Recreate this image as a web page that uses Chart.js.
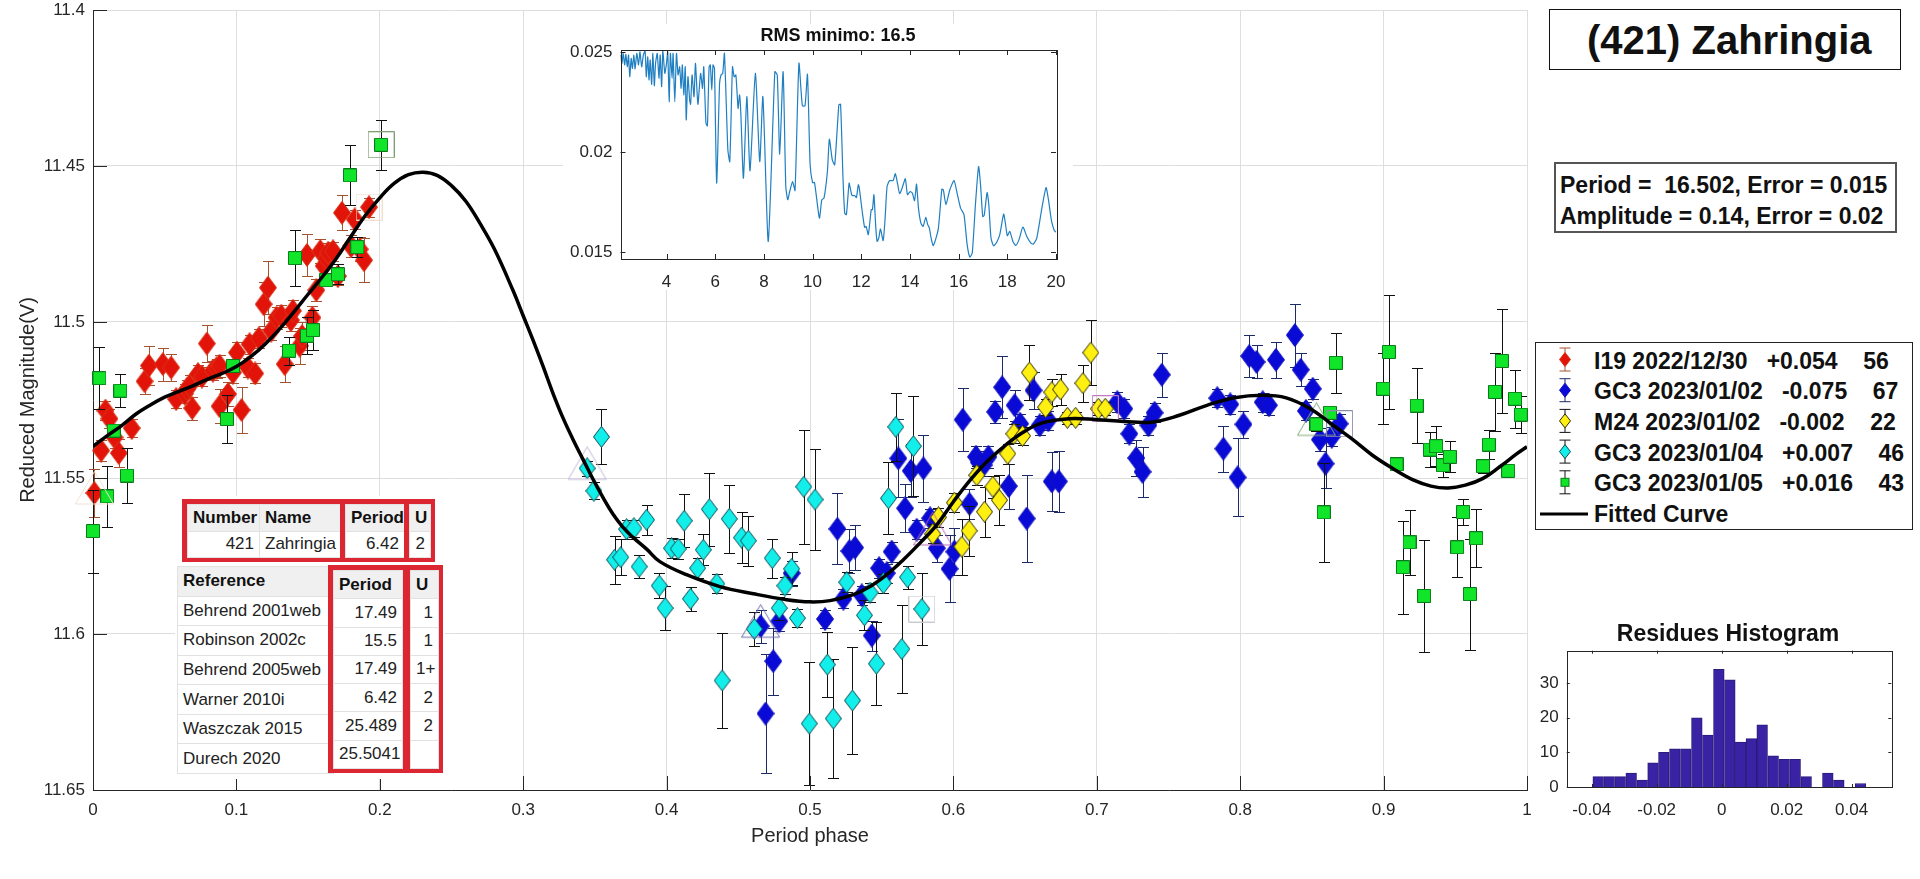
<!DOCTYPE html>
<html>
<head>
<meta charset="utf-8">
<title>(421) Zahringia</title>
<script src="https://cdn.jsdelivr.net/npm/chart.js@4/dist/chart.umd.min.js"></script>
<style>
    html, body { margin: 0; padding: 0; background: #fff; width: 1920px; height: 879px; overflow: hidden; }
    body { position: relative; font-family: "Liberation Sans", Arial, sans-serif; color: #111; }
    canvas { position: absolute; display: block; }
    .plotTitle { position: absolute; transform: translateX(-50%); font-weight: bold; white-space: nowrap; line-height: 1; }
    #rmsTitle { left: 838px; top: 26px; font-size: 18px; }
    #histTitle { left: 1728px; top: 622px; font-size: 23px; }
    .box { position: absolute; box-sizing: border-box; background: #fff; font-weight: bold; white-space: pre; }
    #titleBox { left: 1549px; top: 9px; width: 352px; height: 61px; border: 1.5px solid #111; font-size: 40px; line-height: 61px; padding-left: 37px; }
    #fitBox { left: 1554px; top: 162px; width: 343px; height: 71px; border: 2px solid #555; font-size: 23px; line-height: 30.5px; padding: 6px 0 0 4px; }
    #legendBox { left: 1535px; top: 342px; width: 378px; height: 188px; border: 1.5px solid #222; }
    #legendBox .row { position: absolute; left: 58px; font-size: 23px; line-height: 30px; }
    #legendBox svg { position: absolute; left: 0; top: 0; }
    .frame { position: absolute; box-sizing: border-box; border: 5px solid #dc2632; background: #fff; }
    .plain { position: absolute; background: #fff; }
    table { border-collapse: collapse; table-layout: fixed; width: 100%; font-size: 17px; color: #222; }
    td, th { border: 1px solid #e2e2e2; padding: 0 5px; overflow: hidden; white-space: nowrap; text-align: left; }
    th { background: #f0f0f0; color: #111; font-weight: bold; }
    td.num { text-align: right; }
</style>
</head>
<body>
<canvas id="mainChart" width="1920" height="879" style="left:0;top:0"></canvas>
<canvas id="rmsChart" width="510" height="266" style="left:563px;top:24px;background:#fff"></canvas>
<canvas id="histChart" width="400" height="260" style="left:1520px;top:619px"></canvas>
<div id="rmsTitle" class="plotTitle">RMS minimo: 16.5</div>
<div id="histTitle" class="plotTitle">Residues Histogram</div>
<div id="titleBox" class="box">(421) Zahringia</div>
<div id="fitBox" class="box">Period =  16.502, Error = 0.015
Amplitude = 0.14, Error = 0.02</div>
<div id="legendBox" class="box"></div>
<div id="tables"></div>
<script>
// I19 2022/12/30
const i19Phase = [.001, .0057, .0087, .0115, .015, .018, .027, .036, .039, .0487, .0545, .058, .064, .0655, .0673, .0692, .0732, .076, .0794, .0836, .0862, .0883, .0883, .0941, .0976, .1004, .1036, .108, .1092, .1131, .1157, .119, .122, .1243, .128, .1313, .1337, .138, .1394, .1441, .1458, .1492, .153, .1557, .1585, .1609, .1627, .164, .1674, .1708, .1736, .18, .1825, .186, .189, .1925];
const i19Mag = [11.5548, 11.5412, 11.5284, 11.531, 11.537, 11.542, 11.534, 11.519, 11.514, 11.5135, 11.5146, 11.5247, 11.523, 11.5215, 11.5204, 11.5276, 11.5167, 11.5175, 11.5069, 11.5156, 11.5148, 11.514, 11.527, 11.5231, 11.5162, 11.5098, 11.5282, 11.5146, 11.5071, 11.5165, 11.5052, 11.4943, 11.489, 11.5028, 11.4986, 11.498, 11.5135, 11.4994, 11.4964, 11.5076, 11.5045, 11.4785, 11.4986, 11.4898, 11.4773, 11.482, 11.4795, 11.4778, 11.4773, 11.4853, 11.465, 11.4757, 11.4671, 11.4767, 11.4802, 11.4632];
const i19Err = [.0077, .0035, .003, .003, .0035, .0045, .003, .0042, .0062, .0053, .0043, .003, .003, .003, .0035, .0037, .003, .003, .0058, .003, .003, .0035, .0055, .0038, .0032, .0035, .0075, .003, .003, .0032, .003, .007, .0085, .003, .0035, .0035, .0058, .0035, .0035, .0058, .0045, .0068, .0038, .0035, .0038, .0035, .003, .003, .003, .0027, .0056, .0035, .003, .0038, .007, .003];

// GC3 2023/01/02
const gc302Phase = [.4656, .469, .4744, .4786, .4872, .5105, .5191, .5233, .5275, .5314, .5361, .5431, .5482, .5535, .557, .5616, .5663, .5703, .5744, .5791, .5838, .5884, .5973, .6007, .6065, .6112, .6158, .6178, .621, .6244, .6291, .634, .6386, .6427, .6465, .6511, .6559, .6602, .6662, .6686, .6735, .7143, .7191, .7227, .7275, .7319, .736, .7403, .7453, .784, .7883, .7931, .7982, .8023, .8063, .8114, .8157, .82, .8249, .8381, .8422, .8458, .8506, .8556, .8595, .8638, .8693];
const gc302Mag = [11.5975, 11.6255, 11.6087, 11.5959, 11.5805, 11.5952, 11.5663, 11.5887, 11.5734, 11.5723, 11.5876, 11.6005, 11.5789, 11.5805, 11.5736, 11.5437, 11.5597, 11.5477, 11.5666, 11.5469, 11.5629, 11.5725, 11.5791, 11.5736, 11.5313, 11.5583, 11.5432, 11.545, 11.5459, 11.5432, 11.5288, 11.5209, 11.5526, 11.5267, 11.5326, 11.563, 11.5219, 11.5331, 11.5315, 11.5511, 11.5511, 11.5257, 11.5278, 11.5358, 11.5436, 11.548, 11.5331, 11.5291, 11.5169, 11.5244, 11.5406, 11.5264, 11.5498, 11.5328, 11.5109, 11.5128, 11.5257, 11.5267, 11.5121, 11.5042, 11.5153, 11.5285, 11.5214, 11.5377, 11.5454, 11.5368, 11.5326];
const gc302Err = [.0053, .0192, .0107, .0032, .004, .003, .0114, .003, .0069, .0072, .003, .0048, .003, .003, .0032, .0125, .0077, .0085, .003, .0107, .003, .0043, .0107, .0075, .01, .0048, .0035, .0035, .0035, .0035, .0035, .01, .0072, .005, .003, .014, .006, .003, .003, .0095, .0097, .0032, .003, .003, .0058, .008, .003, .003, .0071, .003, .0074, .003, .0125, .0043, .0067, .0053, .003, .003, .0058, .0101, .0053, .003, .0032, .0037, .0078, .003, .003];

// M24 2023/01/02
const m24Phase = [.5856, .5896, .6007, .6059, .611, .6163, .6217, .6275, .6321, .6379, .6422, .6482, .653, .6643, .6686, .6747, .6795, .6852, .6903, .6958, .7011, .7059];
const m24Mag = [11.5679, 11.5626, 11.5579, 11.572, 11.5669, 11.5491, 11.5608, 11.5528, 11.5571, 11.5422, 11.5358, 11.5365, 11.5162, 11.5273, 11.5225, 11.5216, 11.5307, 11.5307, 11.5196, 11.5098, 11.5278, 11.5278];
const m24Err = [.003, .003, .003, .009, .008, .003, .008, .0035, .008, .0032, .003, .003, .0088, .0025, .0043, .005, .002, .002, .0059, .0105, .002, .002];

// GC3 2023/01/04
const gc304Phase = [.3446, .3493, .3546, .3637, .368, .3721, .3772, .3809, .386, .3949, .399, .4035, .4081, .4123, .4167, .4216, .4256, .4298, .435, .4388, .4437, .4523, .457, .4612, .4737, .4786, .4825, .4872, .4912, .4956, .4995, .5035, .5121, .5163, .5256, .5296, .538, .5419, .5463, .5512, .5547, .5598, .564, .568, .5721, .578];
const gc304Mag = [11.5469, 11.5541, 11.5368, 11.5762, 11.5754, 11.5664, 11.5661, 11.5784, 11.5634, 11.5845, 11.5917, 11.5725, 11.5727, 11.5637, 11.5887, 11.5789, 11.573, 11.56, 11.5839, 11.6149, 11.5631, 11.5691, 11.5701, 11.5984, 11.5757, 11.5917, 11.5845, 11.5791, 11.5949, 11.5528, 11.6287, 11.5569, 11.6098, 11.6271, 11.5834, 11.6213, 11.594, 11.5867, 11.6095, 11.5837, 11.5565, 11.5336, 11.6048, 11.5818, 11.5398, 11.592];
const gc304Err = [.0025, .0027, .0088, .0077, .0057, .003, .0027, .0037, .0048, .004, .007, .0032, .0032, .0085, .0038, .0032, .005, .0117, .003, .0152, .011, .0082, .008, .0056, .0062, .0037, .0027, .0053, .003, .0183, .0197, .0163, .0103, .019, .0032, .0171, .0048, .003, .0133, .003, .0115, .011, .0142, .0037, .016, .0114];

// GC3 2023/01/05
const gc305Phase = [0, .0045, .0099, .0145, .019, .0237, .0934, .0976, .1367, .1408, .1492, .1534, .1627, .1708, .1792, .1843, .2009, .8532, .8583, .8626, .8667, .8996, .9037, .909, .9135, .9181, .9231, .9282, .9323, .9366, .9414, .9462, .9513, .9554, .9602, .9645, .9693, .9734, .9777, .9825, .9868, .9916, .9957];
const gc305Mag = [11.567, 11.518, 11.5559, 11.5348, 11.522, 11.5492, 11.5311, 11.5141, 11.5092, 11.4795, 11.5044, 11.5026, 11.4866, 11.4847, 11.453, 11.476, 11.4432, 11.5328, 11.561, 11.5291, 11.5131, 11.5214, 11.5096, 11.5456, 11.5786, 11.5706, 11.5268, 11.5878, 11.5409, 11.5398, 11.5459, 11.5432, 11.5722, 11.5609, 11.5872, 11.5693, 11.5462, 11.5393, 11.5224, 11.5125, 11.5477, 11.5246, 11.5297];
const gc305Err = [.0133, .01, .0098, .002, .0053, .0087, .0077, .0016, .0045, .0091, .0059, .0064, .002, .0032, .0096, .0032, .008, .002, .0158, .002, .0096, .0114, .0182, .0016, .0149, .0104, .0121, .0179, .0057, .0064, .0037, .005, .0096, .0043, .0178, .0093, .0021, .0047, .0126, .0167, .0016, .0093, .006];

// Session start (triangle) and end (square), order: I19, GC3 01/02, M24, GC3 01/04, GC3 01/05
const startPhase = [.001, .4656, .5856, .3446, .8532];
const startMag = [11.5548, 11.5975, 11.5679, 11.5469, 11.5328];
const endPhase = [.1925, .8693, .7059, .578, .2009];
const endMag = [11.4632, 11.5326, 11.5278, 11.592, 11.4432];

// Fitted curve
const fitPhase = [0, .01, .02, .03, .04, .05, .06, .07, .08, .09, .1, .11, .12, .13, .14, .15, .16, .17, .18, .19, .2, .21, .22, .23, .24, .25, .26, .27, .28, .293, .3, .307, .314, .3209, .3279, .3349, .3419, .3488, .3558, .3628, .3698, .3768, .3861, .3953, .4139, .4372, .4605, .4837, .5, .514, .5302, .5419, .5535, .5651, .5768, .5884, .6, .6117, .6233, .635, .647, .6614, .6807, .7, .7191, .7384, .7576, .7768, .796, .8152, .8321, .8489, .8633, .8777, .8922, .9066, .921, .933, .945, .957, .969, .981, .993, 1];
const fitMag = [11.5399, 11.5364, 11.5332, 11.5295, 11.5266, 11.5241, 11.5222, 11.5204, 11.5183, 11.5165, 11.5143, 11.5111, 11.5071, 11.5023, 11.4968, 11.4911, 11.4855, 11.4794, 11.4725, 11.4658, 11.4602, 11.4556, 11.4528, 11.452, 11.453, 11.4563, 11.4613, 11.4685, 11.4767, 11.49, 11.498, 11.506, 11.5144, 11.523, 11.5309, 11.5378, 11.5442, 11.5505, 11.5564, 11.5617, 11.5659, 11.5691, 11.5728, 11.5768, 11.581, 11.5848, 11.5871, 11.589, 11.5897, 11.5893, 11.5874, 11.5848, 11.581, 11.5762, 11.5708, 11.565, 11.5576, 11.5507, 11.5448, 11.54, 11.5358, 11.5324, 11.531, 11.5313, 11.5319, 11.5321, 11.5299, 11.5267, 11.5243, 11.5235, 11.5243, 11.5278, 11.5326, 11.5374, 11.5427, 11.547, 11.5507, 11.5526, 11.5532, 11.5523, 11.5502, 11.5464, 11.5422, 11.54];

// RMS inset
const rmsPeriod = [2.11, 2.17, 2.22, 2.28, 2.33, 2.39, 2.44, 2.49, 2.55, 2.6, 2.66, 2.71, 2.78, 2.85, 2.91, 2.98, 3.05, 3.12, 3.17, 3.23, 3.28, 3.33, 3.39, 3.44, 3.5, 3.55, 3.62, 3.69, 3.74, 3.8, 3.85, 3.93, 4, 4.05, 4.11, 4.16, 4.23, 4.27, 4.34, 4.41, 4.475, 4.54, 4.6, 4.65, 4.71, 4.77, 4.81, 4.88, 4.95, 4.99, 5.05, 5.13, 5.19, 5.29, 5.4, 5.48, 5.53, 5.62, 5.68, 5.75, 5.8, 5.86, 5.91, 5.97, 6.06, 6.18, 6.24, 6.31, 6.38, 6.52, 6.6, 6.71, 6.78, 6.85, 6.94, 7, 7.05, 7.16, 7.3, 7.43, 7.65, 7.83, 7.96, 8.18, 8.45, 8.55, 8.65, 8.79, 8.9, 8.98, 9.06, 9.18, 9.28, 9.44, 9.58, 9.69, 9.79, 9.9, 10, 10.08, 10.28, 10.38, 10.47, 10.61, 10.69, 10.81, 10.91, 11.08, 11.15, 11.25, 11.32, 11.39, 11.5, 11.55, 11.62, 11.73, 11.8, 11.88, 11.92, 12.04, 12.14, 12.2, 12.29, 12.41, 12.46, 12.52, 12.59, 12.65, 12.72, 12.79, 12.9, 12.98, 13.06, 13.16, 13.31, 13.4, 13.5, 13.58, 13.7, 13.81, 13.9, 14.01, 14.1, 14.19, 14.27, 14.35, 14.45, 14.54, 14.65, 14.73, 14.79, 14.87, 14.95, 15.03, 15.17, 15.31, 15.37, 15.48, 15.63, 15.81, 15.95, 16.08, 16.22, 16.35, 16.46, 16.56, 16.69, 16.82, 16.9, 16.99, 17.05, 17.17, 17.24, 17.33, 17.44, 17.58, 17.69, 17.85, 17.92, 18, 18.1, 18.23, 18.35, 18.48, 18.64, 18.8, 18.97, 19.07, 19.21, 19.42, 19.59, 19.69, 19.82, 19.93, 20];
const rmsValue = [.02487, .02445, .02495, .02437, .0249, .02428, .02487, .02378, .0247, .0242, .02487, .02417, .02495, .02437, .02503, .02428, .02487, .02507, .02378, .02478, .02362, .02462, .0234, .02495, .02333, .02445, .02495, .0237, .02487, .02328, .02512, .02395, .02445, .02503, .02253, .02495, .0237, .02495, .02253, .02495, .02387, .02428, .0232, .02437, .02287, .02428, .02162, .02378, .02262, .0224, .02387, .02278, .02445, .0224, .02395, .0232, .02428, .02145, .02132, .02428, .02437, .02312, .02437, .0242, .01845, .02345, .02387, .02395, .02495, .02012, .01953, .02428, .02378, .02387, .0222, .02287, .02203, .0187, .02278, .01907, .02395, .01953, .02278, .01553, .02403, .02387, .0199, .02403, .01828, .01762, .01803, .01853, .01808, .02445, .02233, .02233, .0239, .01937, .01848, .01848, .0167, .01762, .0177, .01903, .02065, .01962, .01937, .02237, .0224, .0187, .01695, .01687, .01845, .0182, .01783, .01783, .01773, .01837, .0182, .01703, .01623, .01628, .01587, .01712, .01712, .01787, .01637, .01553, .0157, .01615, .01557, .0167, .01828, .01857, .01858, .01892, .01837, .01792, .01828, .01867, .01787, .01803, .01795, .01757, .0184, .0172, .01645, .01628, .01673, .01637, .01623, .0157, .01532, .01553, .0162, .01815, .01812, .01737, .01808, .01858, .01787, .0172, .01687, .01537, .01475, .01495, .01737, .01928, .01837, .01678, .01683, .01798, .01737, .0157, .0153, .01553, .01587, .0169, .01645, .01582, .01603, .01553, .01533, .01562, .01625, .01578, .01545, .0154, .0157, .0172, .01823, .01762, .01653, .01608, .016];
const rmsTicksX = [4, 6, 8, 10, 12, 14, 16, 18, 20];
const rmsTicksY = [.015, .02, .025];

// Residues histogram
const histBins = [-.038, -.03462, -.03123, -.02785, -.02446, -.02113, -.0178, -.01441, -.01103, -.00764, -.00426, -.00087, .00251, .00585, .00913, .01246, .01585, .01923, .02262, .026, .02933, .03267, .03605, .03938, .04272];
const histCounts = [3, 3, 3, 4, 2, 7, 10, 11, 11, 20, 15, 34, 31, 13, 14, 18, 9, 8, 8, 3, 0, 4, 2, 0, 1];
const histTicksX = [-.04, -.02, 0, .02, .04];
const histTicksY = [0, 10, 20, 30];

// Legend text and tables
const legendLabels = ['I19 2022/12/30   +0.054    56', 'GC3 2023/01/02   -0.075    67', 'M24 2023/01/02   -0.002    22', 'GC3 2023/01/04   +0.007    46', 'GC3 2023/01/05   +0.016    43'];
const refNames = ['Behrend 2001web', 'Robinson 2002c', 'Behrend 2005web', 'Warner 2010i', 'Waszczak 2015', 'Durech 2020'];
const refPeriods = ['17.49', '15.5', '17.49', '6.42', '25.489', '25.5041'];
const refU = ['1', '1', '1+', '2', '2', ''];

const font = '"Liberation Sans", Arial, sans-serif';
const textColor = '#262626';
const gridColor = '#dedede';
const tickFont = { family: font, size: 17 };

const seriesStyles = [
    { fill: '#e2140a', edge: '#d8351a', bar: '#a5532f', shape: 'diamondLarge', startColor: '#efe2d4', endColor: '#efe0d2' },
    { fill: '#0a0ad6', edge: '#1414bc', bar: '#1c2a68', shape: 'diamondLarge', startColor: '#6d6da8', endColor: '#8b8bab' },
    { fill: '#fff012', edge: '#2c2c00', bar: '#111', shape: 'diamond', startColor: '#b868b8', endColor: '#c078c0' },
    { fill: '#12efea', edge: '#0b4a52', bar: '#111', shape: 'diamond', startColor: '#c4b6dc', endColor: '#c9c9d2' },
    { fill: '#10e52a', edge: '#0b7a1a', bar: '#111', shape: 'square', startColor: '#86aa78', endColor: '#7f9f72' },
];

const markerSizes = {
    diamond: [17, 22],
    diamondLarge: [18, 24],
    triangle: [39, 44],
    frame: [27, 27],
    square: [14, 14],
};

function makeMarker(shape, fill, edge) {
    const c = document.createElement('canvas');
    const [w, h] = markerSizes[shape];
    c.width = w;
    c.height = h;
    const ctx = c.getContext('2d');
    ctx.strokeStyle = edge;
    ctx.lineWidth = 1;
    ctx.beginPath();
    if (shape.startsWith('diamond')) {
        ctx.moveTo(w / 2, .5);
        ctx.lineTo(w - .5, h / 2);
        ctx.lineTo(w / 2, h - .5);
        ctx.lineTo(.5, h / 2);
        ctx.closePath();
    } else if (shape === 'triangle') {
        // sits above the centre of the image, as MATLAB places it
        ctx.moveTo(w / 2, .5);
        ctx.lineTo(w - .5, 33);
        ctx.lineTo(.5, 33);
        ctx.closePath();
    } else {
        ctx.rect(.5, .5, w - 1, h - 1);
    }
    if (fill) {
        ctx.fillStyle = fill;
        ctx.fill();
    }
    ctx.stroke();
    return c;
}

const errorBars = {
    id: 'errorBars',
    beforeDatasetDraw(chart, args) {
        const dataset = chart.data.datasets[args.index];
        if (!dataset.errors) return;
        const { x, y } = chart.scales;
        const ctx = chart.ctx;
        ctx.save();
        ctx.strokeStyle = dataset.barColor;
        ctx.lineWidth = 1;
        ctx.beginPath();
        dataset.data.forEach((p, i) => {
            const px = Math.round(x.getPixelForValue(p.x)) + .5;
            const top = Math.round(y.getPixelForValue(p.y - dataset.errors[i])) + .5;
            const bottom = Math.round(y.getPixelForValue(p.y + dataset.errors[i])) + .5;
            ctx.moveTo(px, top);
            ctx.lineTo(px, bottom);
            ctx.moveTo(px - 5.5, top);
            ctx.lineTo(px + 5.5, top);
            ctx.moveTo(px - 5.5, bottom);
            ctx.lineTo(px + 5.5, bottom);
        });
        ctx.stroke();
        ctx.restore();
    },
};

// MATLAB style ticks, pointing into the plot
function inwardTicks(length, box) {
    return {
        id: 'inwardTicks',
        afterDraw(chart) {
            const { x, y } = chart.scales;
            const { left, right, top, bottom } = chart.chartArea;
            const ctx = chart.ctx;
            ctx.save();
            ctx.strokeStyle = '#262626';
            ctx.lineWidth = 1;
            ctx.beginPath();
            x.ticks.forEach((t) => {
                const px = Math.round(x.getPixelForValue(t.value)) + .5;
                ctx.moveTo(px, bottom);
                ctx.lineTo(px, bottom - length);
                if (box) {
                    ctx.moveTo(px, top);
                    ctx.lineTo(px, top + length);
                }
            });
            y.ticks.forEach((t) => {
                const py = Math.round(y.getPixelForValue(t.value)) + .5;
                ctx.moveTo(left, py);
                ctx.lineTo(left + length, py);
                if (box) {
                    ctx.moveTo(right, py);
                    ctx.lineTo(right - length, py);
                }
            });
            ctx.stroke();
            if (box) {
                ctx.strokeRect(Math.round(left) + .5, Math.round(top) + .5, Math.round(right - left), Math.round(bottom - top));
            }
            ctx.restore();
        },
    };
}

function fixSize(prop, size) {
    return (scale) => {
        scale[prop] = size;
        scale.paddingLeft = 0;
        scale.paddingRight = 0;
        scale.paddingTop = 0;
        scale.paddingBottom = 0;
    };
}

const tickLabel = (value) => String(Number(Number(value).toFixed(3)) + 0);
const fixedTicks = (values) => (scale) => { scale.ticks = values.map((value) => ({ value })); };

const seriesData = [
    [i19Phase, i19Mag, i19Err],
    [gc302Phase, gc302Mag, gc302Err],
    [m24Phase, m24Mag, m24Err],
    [gc304Phase, gc304Mag, gc304Err],
    [gc305Phase, gc305Mag, gc305Err],
];

const toPoints = (xs, ys) => xs.map((x, i) => ({ x, y: ys[i] }));

const mainDatasets = [{
    data: toPoints(fitPhase, fitMag),
    showLine: true,
    borderColor: '#000',
    borderWidth: 3.5,
    tension: .4,
    pointRadius: 0,
    order: 0,
}];

seriesStyles.forEach((style, i) => {
    const [phase, mag, err] = seriesData[i];
    mainDatasets.push({
        data: toPoints(phase, mag),
        errors: err,
        barColor: style.bar,
        showLine: false,
        pointRadius: 9,
        pointStyle: makeMarker(style.shape, style.fill, style.edge),
        clip: false,
        order: 7 - i,
    });
    mainDatasets.push({
        data: [{ x: startPhase[i], y: startMag[i] }],
        showLine: false,
        pointRadius: 9,
        pointStyle: makeMarker('triangle', null, style.startColor),
        clip: false,
        order: 1,
    });
    mainDatasets.push({
        data: [{ x: endPhase[i], y: endMag[i] }],
        showLine: false,
        pointRadius: 9,
        pointStyle: makeMarker('frame', null, style.endColor),
        clip: false,
        order: 1,
    });
});

new Chart(document.getElementById('mainChart'), {
    type: 'scatter',
    data: { datasets: mainDatasets },
    plugins: [errorBars, inwardTicks(14, false)],
    options: {
        responsive: false,
        animation: false,
        devicePixelRatio: 1,
        layout: { padding: { top: 8, right: 393, bottom: 0, left: 0 } },
        plugins: { legend: { display: false }, tooltip: { enabled: false } },
        scales: {
            x: {
                type: 'linear',
                min: 0,
                max: 1,
                afterFit: fixSize('height', 89),
                grid: { color: gridColor, drawTicks: false },
                border: { color: '#262626' },
                ticks: { stepSize: .1, padding: 10, maxRotation: 0, color: textColor, font: tickFont, callback: tickLabel },
                title: { display: true, text: 'Period phase', color: textColor, font: { family: font, size: 20 }, padding: { top: 0, bottom: 31 } },
            },
            y: {
                reverse: true,
                min: 11.4,
                max: 11.65,
                afterFit: fixSize('width', 93),
                grid: { color: gridColor, drawTicks: false },
                border: { color: '#262626' },
                ticks: { stepSize: .05, padding: 8, color: textColor, font: tickFont, callback: tickLabel },
                title: { display: true, text: 'Reduced Magnitude(V)', color: textColor, font: { family: font, size: 20 }, padding: { top: 16, bottom: 0 } },
            },
        },
    },
});

new Chart(document.getElementById('rmsChart'), {
    type: 'scatter',
    data: {
        datasets: [{
            data: toPoints(rmsPeriod, rmsValue),
            showLine: true,
            borderColor: '#1f7fc1',
            borderWidth: 1.2,
            tension: .2,
            pointRadius: 0,
        }],
    },
    plugins: [inwardTicks(5, true)],
    options: {
        responsive: false,
        animation: false,
        devicePixelRatio: 1,
        layout: { padding: { top: 26, right: 17, bottom: 0, left: 0 } },
        plugins: { legend: { display: false }, tooltip: { enabled: false } },
        scales: {
            x: {
                type: 'linear',
                min: 2.11,
                max: 20,
                afterFit: fixSize('height', 31),
                afterBuildTicks: fixedTicks(rmsTicksX),
                grid: { display: false, drawTicks: false },
                border: { display: false },
                ticks: { padding: 13, maxRotation: 0, color: textColor, font: tickFont, callback: tickLabel },
            },
            y: {
                min: .01465,
                max: .02512,
                afterFit: fixSize('width', 57.5),
                afterBuildTicks: fixedTicks(rmsTicksY),
                grid: { display: false, drawTicks: false },
                border: { display: false },
                ticks: { padding: 8, color: textColor, font: tickFont, callback: tickLabel },
            },
        },
    },
});

new Chart(document.getElementById('histChart'), {
    type: 'bar',
    data: {
        datasets: [{
            data: toPoints(histBins, histCounts),
            backgroundColor: '#3a22a4',
            borderColor: '#2a1c78',
            borderWidth: 1,
            barPercentage: 1,
            categoryPercentage: 1,
        }],
    },
    plugins: [inwardTicks(3, true)],
    options: {
        responsive: false,
        animation: false,
        devicePixelRatio: 1,
        layout: { padding: { top: 31.7, right: 28.7, bottom: 0, left: 0 } },
        plugins: { legend: { display: false }, tooltip: { enabled: false } },
        scales: {
            x: {
                type: 'linear',
                offset: false,
                min: -.0477,
                max: .0522,
                afterFit: fixSize('height', 92),
                afterBuildTicks: fixedTicks(histTicksX),
                grid: { display: false, drawTicks: false },
                border: { display: false },
                ticks: { padding: 13, maxRotation: 0, color: textColor, font: tickFont, callback: tickLabel },
            },
            y: {
                min: 0,
                max: 39.4,
                afterFit: fixSize('width', 46.7),
                afterBuildTicks: fixedTicks(histTicksY),
                grid: { display: false, drawTicks: false },
                border: { display: false },
                ticks: { padding: 8, color: textColor, font: tickFont, callback: tickLabel },
            },
        },
    },
});

// Legend: text rows plus small svg keys
const legendBox = document.getElementById('legendBox');
let keys = '';
legendLabels.forEach((label, i) => {
    const style = seriesStyles[i];
    const cy = 16.5 + i * 30.7;
    const row = document.createElement('div');
    row.className = 'row';
    row.style.top = (cy - 14) + 'px';
    row.textContent = label;
    legendBox.appendChild(row);
    keys += `<path d="M29 ${cy - 11.5}V${cy + 11.5}M23.5 ${cy - 11.5}H34.5M23.5 ${cy + 11.5}H34.5" stroke="${style.bar}" fill="none"/>`;
    keys += style.shape === 'square'
        ? `<rect x="25" y="${cy - 4}" width="8" height="8" fill="${style.fill}" stroke="${style.edge}"/>`
        : `<path d="M29 ${cy - 7}L34.5 ${cy}L29 ${cy + 7}L23.5 ${cy}Z" fill="${style.fill}" stroke="${style.edge}"/>`;
});
legendBox.insertAdjacentHTML('afterbegin', `<svg width="374" height="184">${keys}<path d="M4 171H52" stroke="#000" stroke-width="3"/></svg>`);
const fittedRow = document.createElement('div');
fittedRow.className = 'row';
fittedRow.style.top = '156px';
fittedRow.textContent = 'Fitted Curve';
legendBox.appendChild(fittedRow);

// Tables over the plot, they mask the grid behind them
function addTable(cls, left, top, width, height, rows, widths) {
    const holder = document.createElement('div');
    holder.className = cls;
    holder.style.cssText = `left:${left}px;top:${top}px;width:${width}px;height:${height}px`;
    const rowHeight = (height - (cls === 'frame' ? 10 : 0)) / rows.length;
    let html = '<table><colgroup>' + widths.map((w) => `<col style="width:${w}px">`).join('') + '</colgroup>';
    rows.forEach((row) => {
        html += `<tr style="height:${rowHeight}px">`;
        row.forEach((cell) => {
            html += cell.head ? `<th>${cell.text}</th>` : `<td class="${cell.num ? 'num' : ''}">${cell.text}</td>`;
        });
        html += '</tr>';
    });
    holder.innerHTML = html + '</table>';
    document.getElementById('tables').appendChild(holder);
}

const head = (text) => ({ text, head: true });
const num = (text) => ({ text, num: true });
const txt = (text) => ({ text });

addTable('plain', 175, 496, 270, 283, [], []);
addTable('frame', 182, 499, 163, 63, [[head('Number'), head('Name')], [num('421'), txt('Zahringia')]], [72, 81]);
addTable('frame', 340, 499, 69, 63, [[head('Period')], [num('6.42')]], [59]);
addTable('frame', 404, 499, 31, 63, [[head('U')], [num('2')]], [21]);
addTable('plain', 177, 566, 156, 207, [[head('Reference')]].concat(refNames.map((n) => [txt(n)])), [156]);
addTable('frame', 328, 565, 79, 208, [[head('Period')]].concat(refPeriods.map((p) => [num(p)])), [69]);
addTable('frame', 405, 565, 38, 208, [[head('U')]].concat(refU.map((u) => [num(u)])), [28]);
</script>
</body>
</html>
